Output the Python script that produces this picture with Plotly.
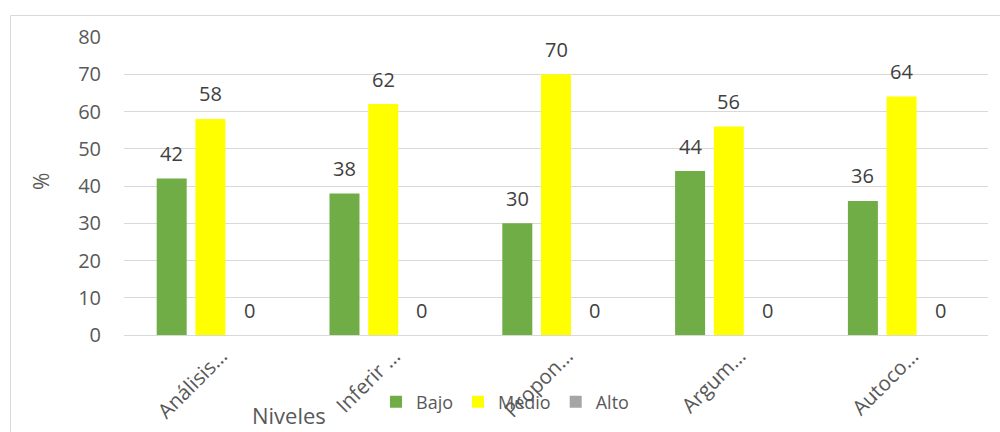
import plotly.graph_objects as go

categories = ["Análisis…", "Inferir …", "Propon…", "Argum…", "Autoco…"]
bajo = [42, 38, 30, 44, 36]
medio = [58, 62, 70, 56, 64]
alto = [0, 0, 0, 0, 0]
series_names = ["Bajo", "Medio", "Alto"]
y_ticks = [0, 10, 20, 30, 40, 50, 60, 70, 80]

colors = ["#70AD47", "#FFFF00", "#A5A5A5"]
FONT = "Open Sans"
TXT = "#595959"

W, H = 1000, 432
ML, MR, MT, MB = 124, 12, 37, 97
PW = W - ML - MR
PH = H - MT - MB
BARGAP = 0.328
BARGROUPGAP = 0.225

fig = go.Figure()
all_series = [bajo, medio, alto]
for name, vals, col in zip(series_names, all_series, colors):
    fig.add_trace(go.Bar(x=categories, y=vals, name=name, marker_color=col,
                         marker_line_width=0))

# data labels
slot = PW / len(categories) * (1 - BARGAP) / len(all_series)
for si, vals in enumerate(all_series):
    xs = (si - (len(all_series) - 1) / 2) * slot
    for c, v in zip(categories, vals):
        fig.add_annotation(x=c, y=v, xref="x", yref="y", text=str(v),
                           showarrow=False, xshift=xs, yshift=25,
                           xanchor="center", yanchor="middle",
                           font=dict(family=FONT, size=20, color="#404040"))

def px_x(p):
    return (p - ML) / PW

def px_y(p):
    return (H - MB - p) / PH

fig.add_annotation(x=px_x(41), y=px_y(182), xref="paper", yref="paper", text="%",
                   showarrow=False, textangle=-90, xanchor="center", yanchor="middle",
                   font=dict(family=FONT, size=21, color=TXT))
fig.add_annotation(x=px_x(289), y=px_y(415), xref="paper", yref="paper", text="Niveles",
                   showarrow=False, xanchor="center", yanchor="middle",
                   font=dict(family=FONT, size=22, color=TXT))

fig.add_shape(type="rect", xref="paper", yref="paper",
              x0=px_x(10.5), x1=px_x(1010), y0=px_y(445), y1=px_y(15.5),
              line=dict(color="#D9D9D9", width=1), fillcolor="rgba(0,0,0,0)", layer="below")

fig.update_layout(
    width=W, height=H,
    margin=dict(l=ML, r=MR, t=MT, b=MB, autoexpand=False),
    paper_bgcolor="white", plot_bgcolor="white",
    barmode="group", bargap=BARGAP, bargroupgap=BARGROUPGAP,
    font=dict(family=FONT, size=19, color=TXT),
    showlegend=True,
    legend=dict(orientation="h", x=px_x(376), y=px_y(402), xanchor="left", yanchor="middle",
                font=dict(family=FONT, size=18, color=TXT), bgcolor="rgba(0,0,0,0)"),
    xaxis=dict(tickangle=-45, showline=True, linecolor="#D9D9D9", linewidth=1,
               ticks="", showgrid=False, automargin=False, ticklabelshift=11,
               tickfont=dict(family=FONT, size=20.5, color=TXT)),
    yaxis=dict(range=[0, 80], tickvals=y_ticks, showgrid=True, gridcolor="#D9D9D9",
               gridwidth=1, zeroline=False, showline=False, ticks="", automargin=False,
               ticklabelstandoff=22, tickfont=dict(family=FONT, size=20, color=TXT)),
)

fig.write_html("out.html", config={"displayModeBar": False},
               post_script="document.body.style.margin='0';")
